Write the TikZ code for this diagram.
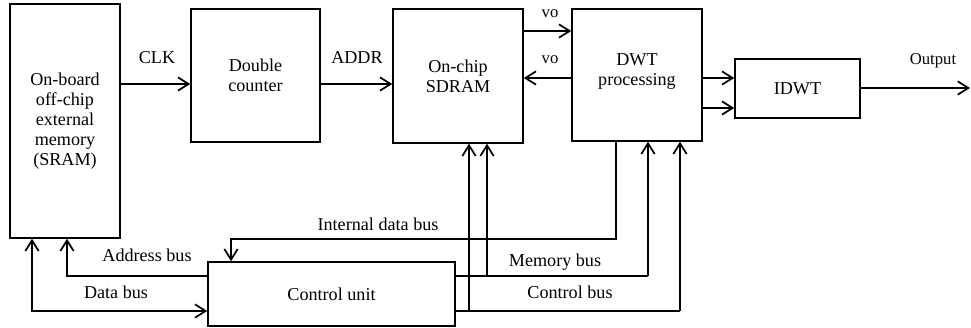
\documentclass[tikz,border=0pt]{standalone}
\usepackage{fontspec}
\setmainfont{Liberation Serif}
\usetikzlibrary{arrows.meta}

\begin{document}
\begin{tikzpicture}[x=0.75pt,y=-0.75pt,
  blk/.style={draw,line width=1.1pt,align=center,inner sep=0pt,font=\rmfamily\fontsize{13.6}{15}\selectfont},
  lbl/.style={inner sep=0pt,align=center,font=\rmfamily\fontsize{13.6}{15}\selectfont},
  con/.style={line width=0.9pt,-{Straight Barb[length=8pt,width=10pt,line width=1.3pt]}},
  bicon/.style={line width=0.9pt,{Straight Barb[length=8pt,width=10pt,line width=1.3pt]}-{Straight Barb[length=8pt,width=10pt,line width=1.3pt]}},
  vcon/.style={con,line width=1.3pt}]
\useasboundingbox (0,0) rectangle (971,328);

% blocks
\node[blk,minimum width=82.5pt,minimum height=175.5pt] (sram) at (65,121) {On-board\\off-chip\\external\\memory\\(SRAM)};
\node[blk,minimum width=96.75pt,minimum height=99.75pt] (cnt) at (255.5,75.5) {Double\\counter};
\node[blk,minimum width=97.5pt,minimum height=100.5pt] (sdram) at (458,76) {On-chip\\SDRAM};
\node[blk,minimum width=97.5pt,minimum height=99pt] (dwt) at (637,75) {};
\node[lbl] (dwtt) at (637,72) {DWT\\processing};
\node[blk,minimum width=93.75pt,minimum height=44.25pt] (idwt) at (797.5,88.5) {IDWT};
\node[blk,minimum width=185.25pt,minimum height=48pt] (ctl) at (331.5,294) {Control unit};

% bus levels and corners
\coordinate (clk) at (0,84);
\coordinate (vo1) at (0,31);
\coordinate (vo2) at (0,78);
\coordinate (dw1) at (0,108);
\coordinate (out) at (970,88);
\coordinate (ab) at (67,276);
\coordinate (db) at (32,311);
\coordinate (idb1) at (616,239);
\coordinate (idb2) at (231,239);
\coordinate (mb) at (648,276);
\coordinate (mbj) at (487,276);
\coordinate (cb) at (680,311);
\coordinate (cbj) at (469,311);

% top row
\draw[con] (sram.east |- clk) -- (cnt.west |- clk);
\draw[con] (cnt.east |- clk) -- (sdram.west |- clk);
\draw[con] (sdram.east |- vo1) -- (dwt.west |- vo1);
\draw[con] (dwt.west |- vo2) -- (sdram.east |- vo2);
\draw[con] (dwt.east |- vo2) -- (idwt.west |- vo2);
\draw[con] (dwt.east |- dw1) -- (idwt.west |- dw1);
\draw[con] (idwt.east |- out) -- (out);

% buses
\draw[con] (ctl.west |- ab) -| (sram.south -| ab);
\draw[bicon] (sram.south -| db) |- (ctl.west |- db);
\draw[con] (dwt.south -| idb1) -- (idb1) -- (idb2) -- (ctl.north -| idb2);
\draw[line width=0.9pt] (ctl.east |- mb) -- (mb);
\draw[vcon] (mb) -- (dwt.south -| mb);
\draw[vcon] (mbj) -- (sdram.south -| mbj);
\draw[line width=0.9pt] (ctl.east |- cb) -- (cb);
\draw[vcon] (cb) -- (dwt.south -| cb);
\draw[vcon] (cbj) -- (sdram.south -| cbj);

% labels
\node[lbl] (lclk) at (157,58) {CLK};
\node[lbl] (laddr) at (357,58) {ADDR};
\node[lbl,font=\rmfamily\fontsize{12.5}{14}\selectfont] (lvo1) at (550,14) {vo};
\node[lbl,font=\rmfamily\fontsize{12.5}{14}\selectfont] (lvo2) at (550,60) {vo};
\node[lbl,font=\rmfamily\fontsize{12.5}{14}\selectfont] (lout) at (933,61) {Output};
\node[lbl] (lidb) at (378,224) {Internal data bus};
\node[lbl] (lab) at (147,255) {Address bus};
\node[lbl] (ldb) at (116,292) {Data bus};
\node[lbl] (lmb) at (555,262) {Memory bus};
\node[lbl] (lcb) at (570,292) {Control bus};
\end{tikzpicture}
\end{document}
